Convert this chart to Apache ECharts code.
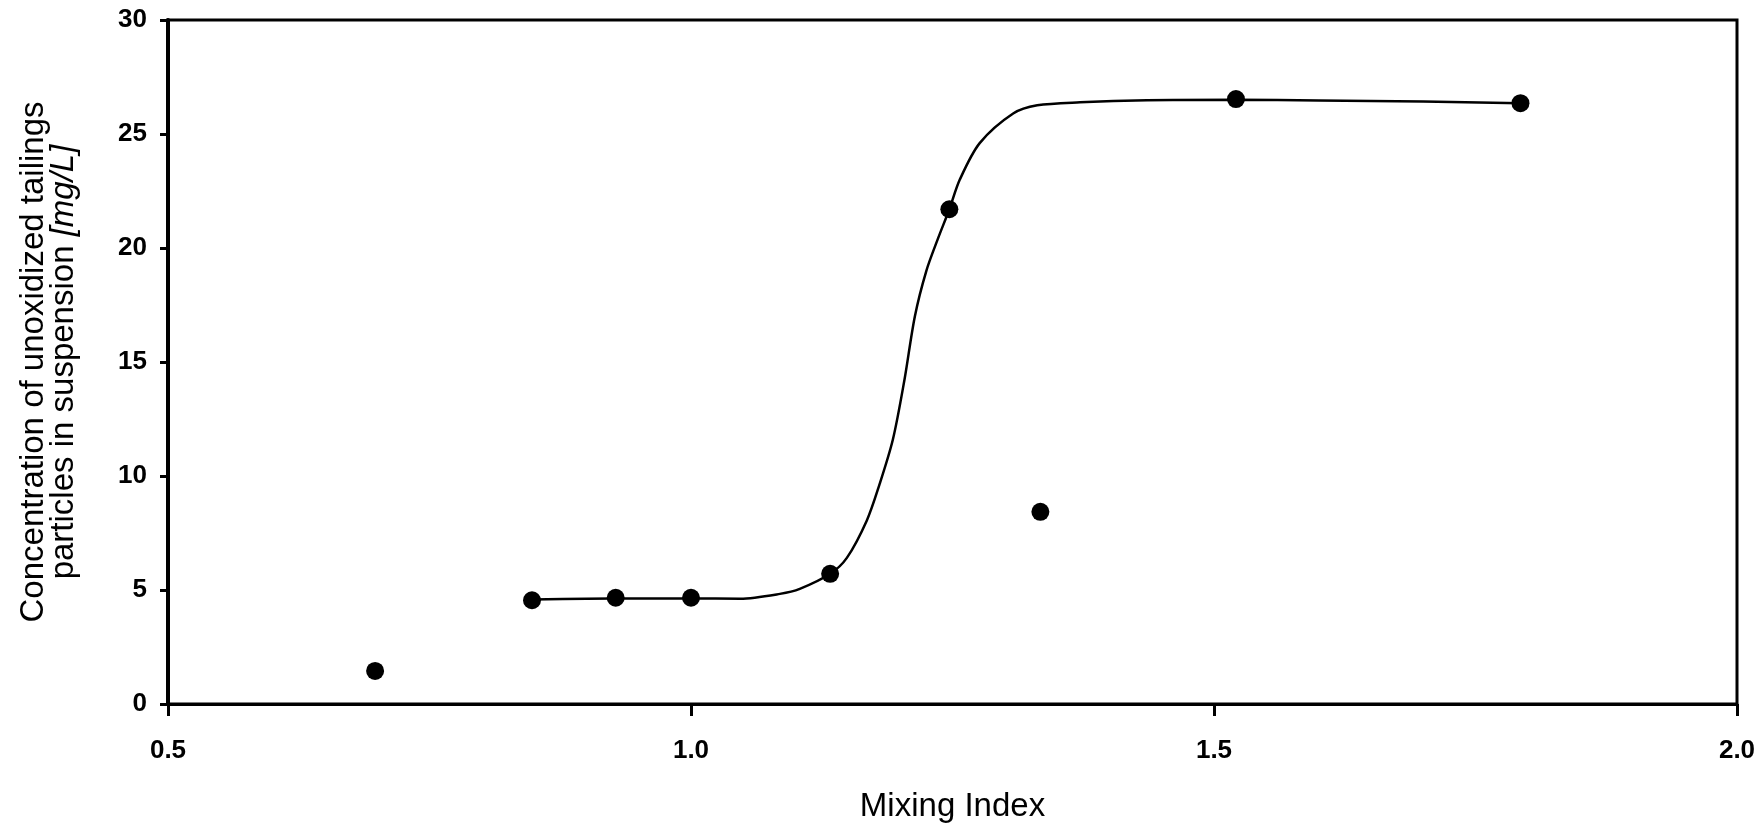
<!DOCTYPE html>
<html>
<head>
<meta charset="utf-8">
<script src="https://cdn.jsdelivr.net/npm/echarts@6/dist/echarts.min.js"></script>
<style>
  html, body { margin: 0; padding: 0; background: #fff; }
  #chart { width: 1761px; height: 824px; }
</style>
</head>
<body>
<div id="chart"></div>
<script>
// Measured samples: mixing index vs. concentration [mg/L]
const mixingIndex   = [0.698, 0.848, 0.928, 1.000, 1.133, 1.247, 1.334, 1.521, 1.793];
const concentration = [1.45, 4.55, 4.66, 4.66, 5.71, 21.7, 8.43, 26.53, 26.35];

// Fitted trend curve through the samples
const curveX = [0.848, 0.90, 0.95, 1.00, 1.047, 1.085, 1.104, 1.133, 1.149, 1.168, 1.180,
                1.193, 1.204, 1.214, 1.225, 1.236, 1.247, 1.257, 1.276, 1.308, 1.331,
                1.372, 1.436, 1.521, 1.60, 1.70, 1.793];
const curveY = [4.58, 4.62, 4.63, 4.63, 4.62, 4.83, 5.05, 5.71, 6.41, 8.04, 9.6,
                11.6, 14.2, 17.0, 19.0, 20.4, 21.7, 23.0, 24.6, 25.9, 26.26,
                26.39, 26.48, 26.5, 26.47, 26.42, 26.35];

// Axis ticks
const xTicks = [0.5, 1.0, 1.5, 2.0];
const yTicks = [0, 5, 10, 15, 20, 25, 30];

const xAxisTitle = 'Mixing Index';
const yAxisTitleLine1 = 'Concentration of unoxidized tailings';
const yAxisTitleLine2 = 'particles in suspension ';
const yAxisUnit = '[mg/L]';

const pairs = (xs, ys) => xs.map((x, i) => [x, ys[i]]);

const chart = echarts.init(document.getElementById('chart'), null, { renderer: 'canvas' });

const fontFamily = '"Liberation Sans", Arial, Helvetica, sans-serif';

chart.setOption({
  animation: false,
  backgroundColor: '#fff',
  grid: {
    left: 168, right: 24, top: 20, bottom: 120,
    show: true, borderColor: '#000', borderWidth: 3,
    containLabel: false,
    outerBoundsMode: 'none'
  },
  xAxis: {
    type: 'value',
    min: xTicks[0], max: xTicks[xTicks.length - 1], interval: 0.5,
    name: xAxisTitle,
    nameLocation: 'middle',
    nameGap: 86,
    nameTextStyle: { fontFamily, fontSize: 33, color: '#000' },
    axisLine: { show: true, onZero: false, lineStyle: { color: '#000', width: 3 } },
    axisTick: { show: true, inside: false, length: 12, lineStyle: { color: '#000', width: 3 } },
    axisLabel: {
      margin: 34, color: '#000', fontFamily, fontSize: 26, fontWeight: 'bold',
      formatter: v => v.toFixed(1)
    },
    splitLine: { show: false }
  },
  yAxis: {
    type: 'value',
    min: yTicks[0], max: yTicks[yTicks.length - 1], interval: 5,
    name: '{a|' + yAxisTitleLine1 + '}\n{a|' + yAxisTitleLine2 + '}{u|' + yAxisUnit + '}',
    nameLocation: 'middle',
    nameGap: 89,
    nameTextStyle: {
      fontFamily, fontSize: 33, color: '#000', lineHeight: 30, align: 'center',
      rich: {
        a: { fontFamily, fontSize: 33, color: '#000', lineHeight: 30 },
        u: { fontFamily, fontSize: 33, color: '#000', lineHeight: 30, fontStyle: 'italic' }
      }
    },
    axisLine: { show: true, onZero: false, lineStyle: { color: '#000', width: 4 } },
    axisTick: { show: true, inside: false, length: 8, lineStyle: { color: '#000', width: 3 } },
    axisLabel: {
      margin: 21, color: '#000', fontFamily, fontSize: 26, fontWeight: 'bold'
    },
    splitLine: { show: false }
  },
  series: [
    {
      name: 'trend',
      type: 'line',
      data: pairs(curveX, curveY),
      smooth: 0.3,
      showSymbol: false,
      symbol: 'none',
      lineStyle: { color: '#000', width: 2.5 },
      z: 2
    },
    {
      name: 'samples',
      type: 'scatter',
      data: pairs(mixingIndex, concentration),
      symbol: 'circle',
      symbolSize: 18,
      itemStyle: { color: '#000', opacity: 1 },
      z: 3
    }
  ]
});
</script>
</body>
</html>
